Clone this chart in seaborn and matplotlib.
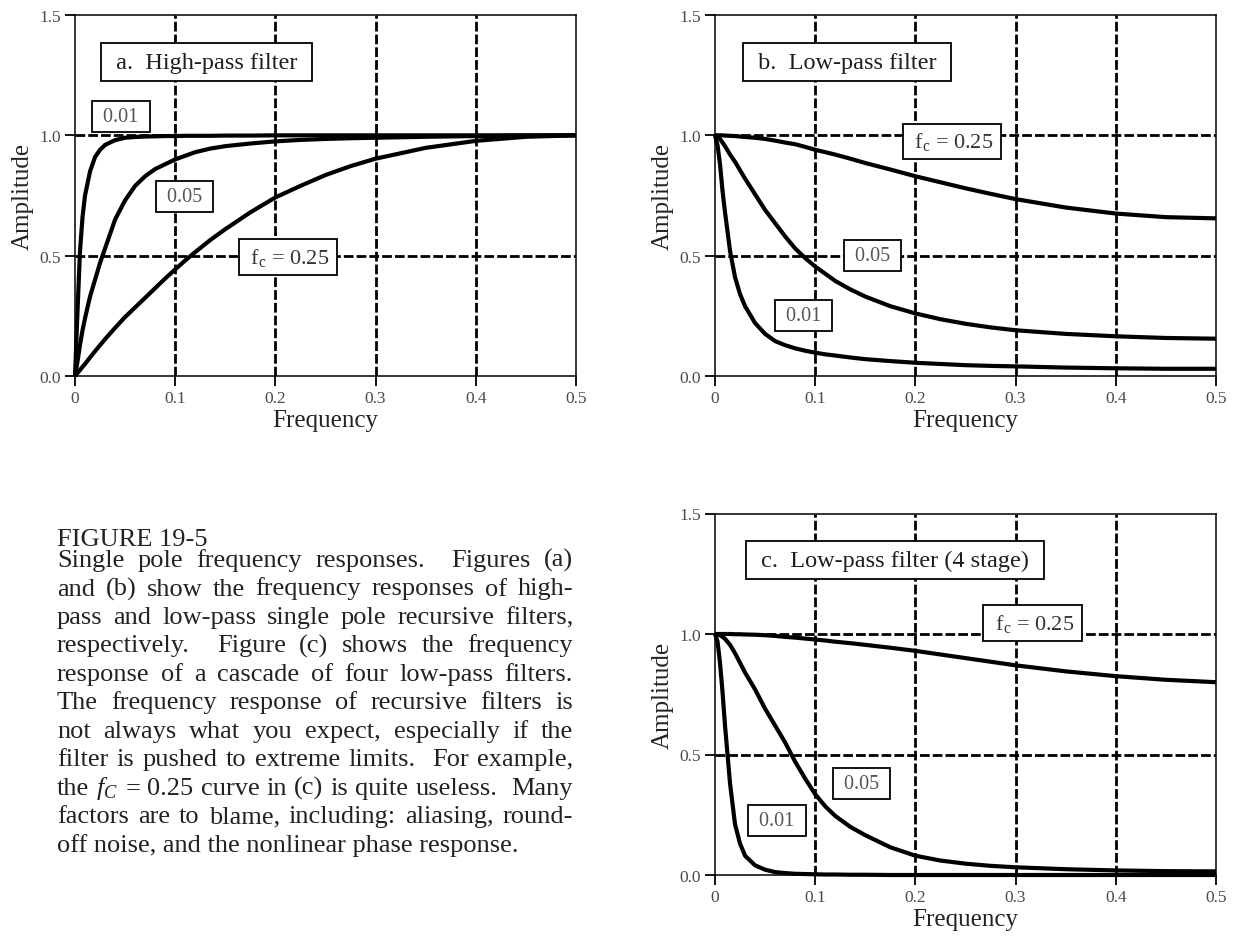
import matplotlib
matplotlib.use("Agg")
import matplotlib.pyplot as plt
import numpy as np
import pandas as pd
import seaborn as sns

# ---------------- data ----------------
FREQ = [0, 0.0025, 0.005, 0.0075, 0.01, 0.015, 0.02, 0.025, 0.03, 0.04,
        0.05, 0.06, 0.07, 0.08, 0.09, 0.1, 0.11, 0.12, 0.135, 0.15,
        0.175, 0.2, 0.225, 0.25, 0.275, 0.3, 0.35, 0.4, 0.45, 0.5]

# (a) high-pass, single pole
HP_001 = [0, 0.27, 0.52, 0.66, 0.75, 0.85, 0.91, 0.94, 0.96, 0.98,
          0.99, 0.993, 0.995, 0.996, 0.997, 0.997, 0.998, 0.998, 0.998, 0.999,
          0.999, 1, 1, 1, 1, 1, 1, 1, 1, 1]
HP_005 = [0, 0.06, 0.13, 0.19, 0.24, 0.33, 0.40, 0.47, 0.53, 0.65,
          0.73, 0.79, 0.83, 0.86, 0.88, 0.90, 0.915, 0.93, 0.945, 0.955,
          0.966, 0.975, 0.981, 0.985, 0.988, 0.99, 0.994, 0.997, 0.999, 1]
HP_025 = [0, 0.012, 0.025, 0.038, 0.05, 0.077, 0.103, 0.128, 0.153, 0.20,
          0.245, 0.285, 0.325, 0.365, 0.405, 0.443, 0.48, 0.515, 0.565, 0.61,
          0.68, 0.742, 0.79, 0.835, 0.872, 0.903, 0.948, 0.977, 0.994, 1.0]

# (b) low-pass, single pole
LP_001 = [1, 0.96, 0.88, 0.77, 0.68, 0.52, 0.41, 0.34, 0.29, 0.22,
          0.175, 0.145, 0.128, 0.115, 0.105, 0.097, 0.09, 0.085, 0.077, 0.07,
          0.062, 0.055, 0.05, 0.045, 0.042, 0.04, 0.035, 0.032, 0.03, 0.03]
LP_005 = [1, 0.995, 0.985, 0.97, 0.955, 0.92, 0.89, 0.855, 0.82, 0.755,
          0.69, 0.635, 0.58, 0.53, 0.49, 0.455, 0.425, 0.395, 0.36, 0.33,
          0.29, 0.26, 0.236, 0.217, 0.202, 0.19, 0.175, 0.165, 0.158, 0.155]
LP_025 = [1, 1, 1, 1, 0.999, 0.998, 0.997, 0.995, 0.993, 0.99,
          0.985, 0.978, 0.97, 0.963, 0.952, 0.94, 0.93, 0.92, 0.903, 0.885,
          0.858, 0.83, 0.805, 0.78, 0.757, 0.735, 0.70, 0.675, 0.66, 0.655]

# (c) low-pass, 4 stage
C4_001 = [1, 0.97, 0.88, 0.76, 0.62, 0.38, 0.21, 0.13, 0.08, 0.04,
          0.022, 0.012, 0.008, 0.005, 0.004, 0.003, 0.002, 0.002, 0.001, 0.001,
          0, 0, 0, 0, 0, 0, 0, 0, 0, 0]
C4_005 = [1, 0.999, 0.995, 0.988, 0.98, 0.955, 0.92, 0.88, 0.84, 0.77,
          0.69, 0.62, 0.55, 0.47, 0.40, 0.335, 0.285, 0.245, 0.20, 0.165,
          0.115, 0.08, 0.06, 0.047, 0.038, 0.032, 0.024, 0.019, 0.016, 0.015]
C4_025 = [1, 1, 1, 1, 1, 1, 0.999, 0.999, 0.998, 0.997,
          0.995, 0.992, 0.988, 0.985, 0.981, 0.977, 0.973, 0.968, 0.962, 0.955,
          0.943, 0.93, 0.915, 0.90, 0.885, 0.87, 0.845, 0.825, 0.81, 0.80]

CUTOFFS = ["0.01", "0.05", "0.25"]
CURVE_LABELS = ["0.01", "0.05", "f$_\\mathrm{c}$ = 0.25"]
PANEL_TITLES = ["a.  High-pass filter", "b.  Low-pass filter",
                "c.  Low-pass filter (4 stage)"]
X_TICKS = [0, 0.1, 0.2, 0.3, 0.4, 0.5]
X_TICK_LABELS = ["0", "0.1", "0.2", "0.3", "0.4", "0.5"]
Y_TICKS = [0.0, 0.5, 1.0, 1.5]
Y_TICK_LABELS = ["0.0", "0.5", "1.0", "1.5"]
X_LABEL = "Frequency"
Y_LABEL = "Amplitude"

CAPTION_TITLE = "FIGURE 19-5"
CAPTION_LINES = [
    "Single pole frequency responses.  Figures (a)",
    "and (b) show the frequency responses of high-",
    "pass and low-pass single pole recursive filters,",
    "respectively.  Figure (c) shows the frequency",
    "response of a cascade of four low-pass filters.",
    "The frequency response of recursive filters is",
    "not always what you expect, especially if the",
    "filter is pushed to extreme limits.  For example,",
    "the $f_C$ = 0.25 curve in (c) is quite useless.  Many",
    "factors are to blame, including: aliasing, round-",
    "off noise, and the nonlinear phase response.",
]

# ---------------- style ----------------
sns.set_theme(style="white")
plt.rcParams.update({
    "font.family": ["Liberation Serif", "DejaVu Serif"],
    "mathtext.fontset": "custom",
    "mathtext.rm": "Liberation Serif",
    "mathtext.it": "Liberation Serif:italic",
    "mathtext.bf": "Liberation Serif:bold",
    "axes.facecolor": "white",
    "figure.facecolor": "white",
})

W, H = 1240, 937
fig = plt.figure(figsize=(W / 100, H / 100), dpi=100)


def px_axes(left, top, right, bottom):
    return fig.add_axes([left / W, 1 - bottom / H, (right - left) / W, (bottom - top) / H])


ax_a = px_axes(75, 16, 576, 377)
ax_b = px_axes(715, 16, 1216, 377)
ax_c = px_axes(715, 514.5, 1216, 876)

panels = [
    (ax_a, [HP_001, HP_005, HP_025]),
    (ax_b, [LP_001, LP_005, LP_025]),
    (ax_c, [C4_001, C4_005, C4_025]),
]

title_pos = [(0.131, 1.303), (0.132, 1.303), (0.1796, 1.307)]
label_pos = [
    [(0.046, 1.079), (0.109, 0.747), (0.2126, 0.494)],
    [(0.088, 0.253), (0.157, 0.502), (0.2365, 0.975)],
    [(0.062, 0.228), (0.146, 0.378), (0.317, 1.046)],
]

for i, (ax, series) in enumerate(panels):
    df = pd.DataFrame({
        "freq": FREQ * 3,
        "amp": series[0] + series[1] + series[2],
        "fc": sum([[c] * len(FREQ) for c in CUTOFFS], []),
    })
    sns.lineplot(data=df, x="freq", y="amp", units="fc", estimator=None,
                 color="black", lw=3.0, ax=ax, legend=False, zorder=3)
    for ln in ax.lines:
        ln.set_clip_on(False)
        ln.set_solid_capstyle("butt")
        ln.set_solid_joinstyle("round")

    ax.set_xlim(0, 0.5)
    ax.set_ylim(0, 1.5)
    ax.set_xticks(X_TICKS)
    ax.set_xticklabels(X_TICK_LABELS)
    ax.set_yticks(Y_TICKS)
    ax.set_yticklabels(Y_TICK_LABELS)
    for xv in X_TICKS[1:-1]:
        ax.axvline(xv, color="black", lw=2.0, dashes=(3.5, 1.1), zorder=1)
    for yv in Y_TICKS[1:-1]:
        ax.axhline(yv, color="black", lw=2.0, dashes=(3.5, 1.1), zorder=1)
    for s in ax.spines.values():
        s.set_visible(True)
        s.set_color("black")
        s.set_linewidth(1.1)
        s.set_zorder(4)
    ax.tick_params(axis="both", which="major", direction="out", length=7,
                   width=1.3, color="black", labelsize=12.5,
                   labelcolor="#4a4a4a", pad=3, bottom=True, left=True)
    ax.set_xlabel(X_LABEL, fontsize=18, labelpad=2, color="#222222")
    ax.set_ylabel(Y_LABEL, fontsize=18, labelpad=4, color="#222222")
    ax.grid(False)

    tx, ty = title_pos[i]
    ax.text(tx, ty, " " + PANEL_TITLES[i] + " ", ha="center", va="center",
            fontsize=17.5, color="#1e1e1e", zorder=6,
            bbox=dict(boxstyle="square,pad=0.35", fc="white", ec="black", lw=1.3))
    for j, lab in enumerate(CURVE_LABELS):
        lx, ly = label_pos[i][j]
        fs = 16 if j == 2 else 14.5
        col = "#333333" if j == 2 else "#555555"
        ax.text(lx, ly, " " + lab + " ", ha="center", va="center",
                fontsize=fs, color=col, zorder=6,
                bbox=dict(boxstyle="square,pad=0.3", fc="white", ec="black", lw=1.3))

# ---------------- caption (justified) ----------------
renderer = fig.canvas.get_renderer()
CAP_FS = 19
CAP_LEFT, CAP_RIGHT = 57, 573
CAP_COLOR = "#222222"


def fig_xy(x, y):
    return x / W, 1 - y / H


fig.text(*fig_xy(CAP_LEFT, 546), CAPTION_TITLE, fontsize=CAP_FS, color=CAP_COLOR,
         ha="left", va="baseline")

for k, line in enumerate(CAPTION_LINES):
    base = 567 + k * 28.5
    if k == len(CAPTION_LINES) - 1:
        fig.text(*fig_xy(CAP_LEFT, base), line, fontsize=CAP_FS, color=CAP_COLOR,
                 ha="left", va="baseline")
        continue
    tokens = line.split(" ")
    words, weights = [], []
    gap = 0
    for t in tokens:
        if t == "":
            gap += 1
            continue
        if words:
            weights.append(gap)
        words.append(t)
        gap = 1
    texts, widths = [], []
    for w in words:
        t = fig.text(0, 0, w, fontsize=CAP_FS, color=CAP_COLOR, ha="left", va="baseline")
        bb = t.get_window_extent(renderer)
        texts.append(t)
        widths.append(bb.width)
    total = CAP_RIGHT - CAP_LEFT
    unit = (total - sum(widths)) / max(sum(weights), 1)
    x = CAP_LEFT
    for n, (t, wd) in enumerate(zip(texts, widths)):
        t.set_position(fig_xy(x, base))
        x += wd
        if n < len(weights):
            x += unit * weights[n]

fig.savefig("out.png", dpi=100, facecolor="white")
